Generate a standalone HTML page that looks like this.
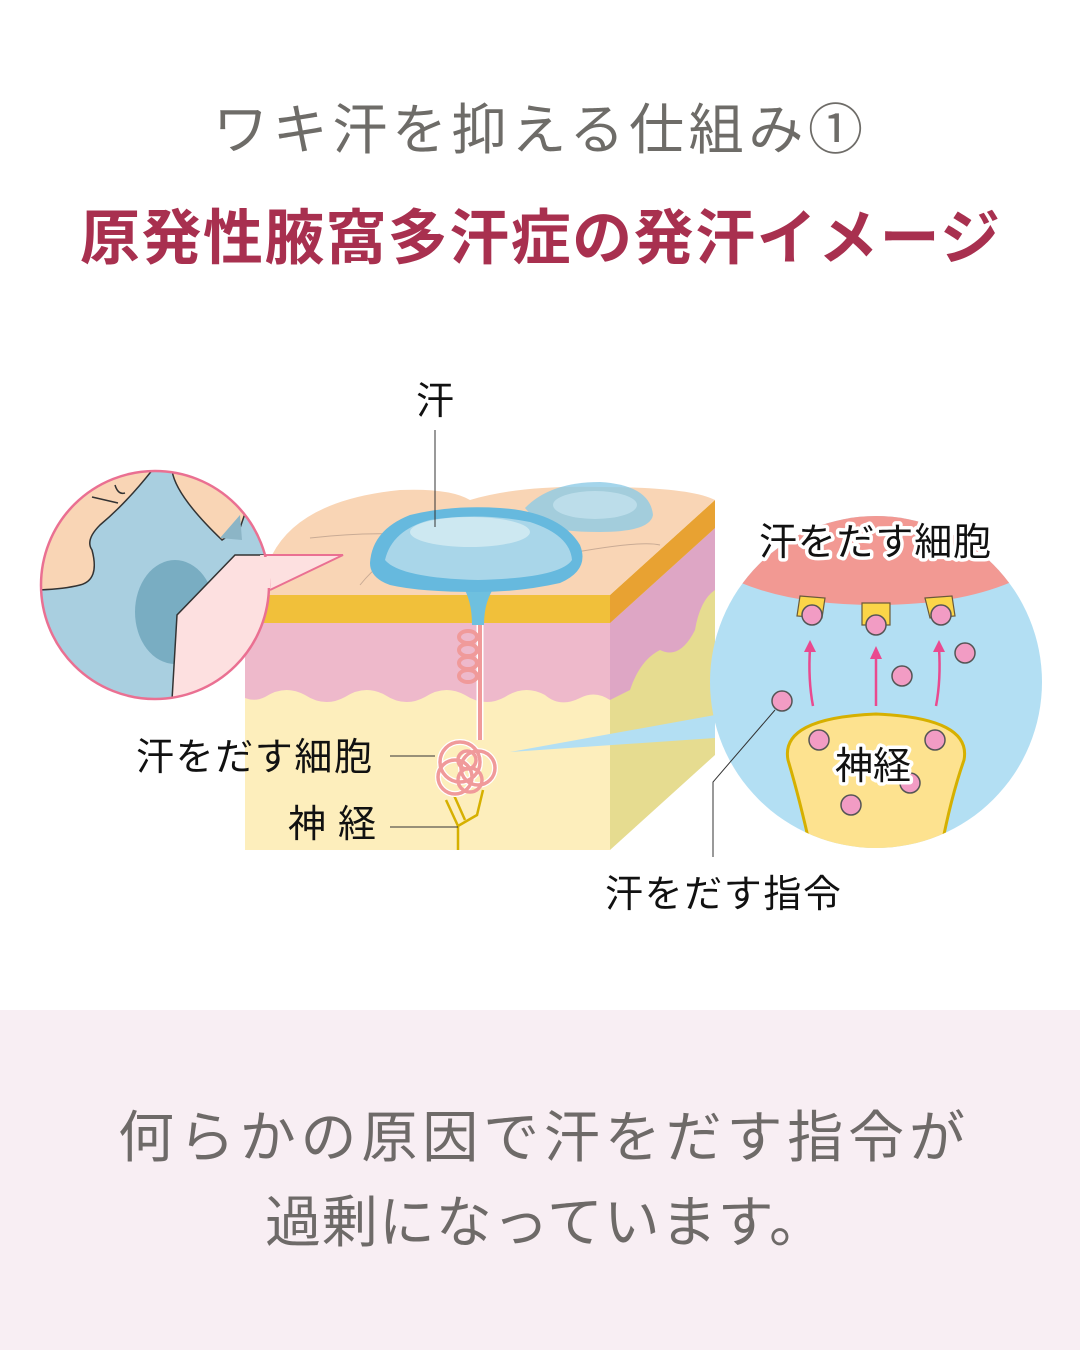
<!DOCTYPE html>
<html><head><meta charset="utf-8"><style>
html,body{margin:0;padding:0;background:#fff}
svg{display:block}
text{font-family:"Liberation Sans","Noto Sans CJK JP",sans-serif}
</style></head><body>
<svg width="1080" height="1350" viewBox="0 0 1080 1350" xmlns="http://www.w3.org/2000/svg">
<rect width="1080" height="1350" fill="#fff"/>
<rect y="1010" width="1080" height="340" fill="#f8eef3"/>
<text x="213" y="149" font-size="55" fill="#6e6c68" textLength="650" lengthAdjust="spacing">ワキ汗を抑える仕組み①</text>
<text x="80" y="259" font-size="60" font-weight="bold" fill="#a8304f" textLength="920" lengthAdjust="spacing">原発性腋窩多汗症の発汗イメージ</text>
<text x="118" y="1157" font-size="56" fill="#6e6a68" textLength="847" lengthAdjust="spacing">何らかの原因で汗をだす指令が</text>
<text x="265" y="1242" font-size="56" fill="#6e6a68" textLength="560" lengthAdjust="spacing">過剰になっています。</text>

<!-- block side -->
<polygon points="610,595 715,500 715,755 610,850" fill="#e6dc90"/>
<path d="M610,623 L715,528 L715,590 Q700,600 695,630 Q680,660 660,650 Q640,660 630,690 L610,700 Z" fill="#dea6c5"/>
<polygon points="610,595 715,500 715,528 610,623" fill="#e8a232"/>
<!-- top surface -->
<path d="M245,595 L272,555 Q300,500 400,490 Q450,488 470,500 Q520,485 600,487 Q690,487 715,500 L610,595 Z" fill="#f9d5b5"/>
<path d="M310,538 Q380,530 430,537 M560,555 Q640,540 660,545 M360,585 Q380,560 400,555" stroke="#c9ab95" stroke-width="1" fill="none"/>
<!-- front -->
<rect x="245" y="595" width="365" height="28" fill="#f1c03a"/>
<rect x="245" y="623" width="365" height="227" fill="#fdeebc"/>
<path d="M245,623 H610 V700 Q595,690 580,698 Q560,708 545,695 Q525,684 505,697 Q485,708 465,695 Q445,684 425,697 Q405,708 385,695 Q365,684 345,697 Q325,708 305,695 Q285,684 265,697 Q255,702 245,698 Z" fill="#eeb9cb"/>
<!-- sweat -->
<path d="M525,508 Q550,482 600,482 Q650,485 653,515 Q650,532 600,532 Q560,532 540,525 Z" fill="#8dcbe6" opacity="0.8"/>
<ellipse cx="595" cy="505" rx="42" ry="14" fill="#c6e4ef" opacity="0.7"/>
<path d="M462,585 Q472,600 472,625 L484,625 Q484,600 496,585 Z" fill="#6ec0df"/>
<path d="M370,563 Q372,530 410,515 Q450,505 500,508 Q560,512 580,545 Q590,570 560,583 Q520,592 478,592 Q420,592 390,585 Q370,578 370,563 Z" fill="#66b9de"/>
<path d="M385,560 Q392,530 430,520 Q480,512 530,522 Q570,535 572,560 Q560,578 478,580 Q400,578 385,560 Z" fill="#a9d6e9"/>
<ellipse cx="470" cy="532" rx="60" ry="15" fill="#d6ecf2" opacity="0.8"/>
<!-- coil -->
<path d="M480,625 V740" fill="none" stroke="#fff" stroke-width="7"/>
<g fill="none" stroke="#f09a9a" stroke-width="4">
<path d="M480,625 V740"/>
<ellipse cx="468" cy="637" rx="9" ry="6"/><ellipse cx="468" cy="650" rx="9" ry="6"/><ellipse cx="468" cy="663" rx="9" ry="6"/><ellipse cx="468" cy="676" rx="9" ry="6"/>
</g>
<g fill="none" stroke="#d6b000" stroke-width="2.5"><path d="M458,850 V826 L446,800 M458,826 L477,815 L483,790 M465,820 L453,793"/></g>
<g fill="none" stroke="#fff" stroke-width="6"><circle cx="460" cy="762" r="20"/><circle cx="478" cy="768" r="17"/><circle cx="455" cy="777" r="17"/></g>
<g fill="none" stroke="#f09a9a" stroke-width="3.5"><circle cx="460" cy="762" r="20"/><circle cx="478" cy="768" r="17"/><circle cx="455" cy="777" r="17"/><circle cx="467" cy="760" r="9"/><circle cx="470" cy="780" r="12"/></g>
<!-- pointer to right circle -->
<polygon points="510,752 715,715 715,738" fill="#b3dff3"/>
<!-- right circle -->
<defs><clipPath id="rc"><circle cx="876" cy="682" r="166"/></clipPath></defs>
<circle cx="876" cy="682" r="166" fill="#b3dff3"/>
<g clip-path="url(#rc)">
<path d="M700,500 H1050 V560 Q990,605 876,605 Q760,605 700,560 Z" fill="#f29993"/>
<path d="M812,855 Q800,800 788,760 Q780,718 876,714 Q972,718 964,760 Q950,800 940,855 Z" fill="#fde28f" stroke="#d6b000" stroke-width="3"/>
</g>
<g fill="#fbd548" stroke="#6a5a3a" stroke-width="1.2">
<polygon points="800,596 825,598 822,618 797,616"/><polygon points="862,603 890,603 890,625 862,625"/><polygon points="925,598 952,596 955,616 930,618"/>
</g>
<g fill="#f29cc4" stroke="#555" stroke-width="1.5">
<circle cx="812" cy="615" r="10"/><circle cx="876" cy="625" r="10"/><circle cx="941" cy="615" r="10"/>
<circle cx="965" cy="653" r="10"/><circle cx="902" cy="676" r="10"/><circle cx="782" cy="701" r="10"/>
<circle cx="819" cy="740" r="10"/><circle cx="935" cy="740" r="10"/><circle cx="910" cy="783" r="10"/><circle cx="851" cy="805" r="10"/>
</g>
<g stroke="#e94a8f" stroke-width="2.5" fill="none"><path d="M813,706 Q808,680 810,648"/><path d="M876,706 V655"/><path d="M936,706 Q941,680 939,648"/></g>
<g fill="#e94a8f"><polygon points="804,652 810,640 816,652"/><polygon points="870,659 876,646 882,659"/><polygon points="933,652 939,640 945,652"/></g>
<text x="875" y="555" font-size="38" text-anchor="middle" fill="#111" stroke="#fff" stroke-width="7" paint-order="stroke" stroke-linejoin="round" textLength="232" lengthAdjust="spacing">汗をだす細胞</text>
<text x="873" y="779" font-size="38" text-anchor="middle" fill="#111" stroke="#fff" stroke-width="7" paint-order="stroke" stroke-linejoin="round">神経</text>
<!-- left circle -->
<defs><clipPath id="lc"><circle cx="155" cy="585" r="114"/></clipPath></defs>
<circle cx="155" cy="585" r="114" fill="#a9cfe0"/>
<g clip-path="url(#lc)">
<path d="M30,460 H160 Q130,500 100,525 Q85,540 92,550 Q100,580 80,585 Q60,590 30,590 Z" fill="#f9d5b5" stroke="#333" stroke-width="1.5"/>
<path d="M172,470 Q175,495 222,540 L240,528 L260,470 Z" fill="#f9d5b5" stroke="#333" stroke-width="1.5"/>
<path d="M220,538 L240,515 L242,540 Z" fill="#8cb5c6"/>
<ellipse cx="175" cy="612" rx="40" ry="52" fill="#79adc2"/>
<path d="M172,700 L177,615 L235,555 L300,555 L300,700 Z" fill="#fde0e0" stroke="#333" stroke-width="1.5"/>
<path d="M92,497 Q105,500 118,503 M115,485 Q118,495 125,493" stroke="#333" stroke-width="1.5" fill="none"/>
</g>
<polygon points="260,555 343,555 268,590" fill="#fde0e0"/>
<path d="M265,555 L343,555 L270,590" fill="none" stroke="#ea7092" stroke-width="2"/>
<circle cx="155" cy="585" r="114" fill="none" stroke="#ea7092" stroke-width="2.5"/>
<rect x="264" y="557" width="6" height="31" fill="#fde0e0"/>
<!-- labels -->
<text x="435" y="414" font-size="38" text-anchor="middle" fill="#111">汗</text>
<line x1="435" y1="430" x2="435" y2="527" stroke="#333" stroke-width="1"/>
<text x="136" y="770" font-size="38" fill="#111" textLength="236" lengthAdjust="spacing">汗をだす細胞</text>
<line x1="390" y1="756" x2="435" y2="756" stroke="#333" stroke-width="1"/>
<text x="288" y="837" font-size="38" fill="#111" textLength="88" lengthAdjust="spacing">神経</text>
<line x1="390" y1="827" x2="458" y2="827" stroke="#333" stroke-width="1"/>
<polyline points="775,710 713,782 713,857" fill="none" stroke="#333" stroke-width="1"/>
<text x="605" y="907" font-size="38" fill="#111" textLength="236" lengthAdjust="spacing">汗をだす指令</text>
</svg>
</body></html>
